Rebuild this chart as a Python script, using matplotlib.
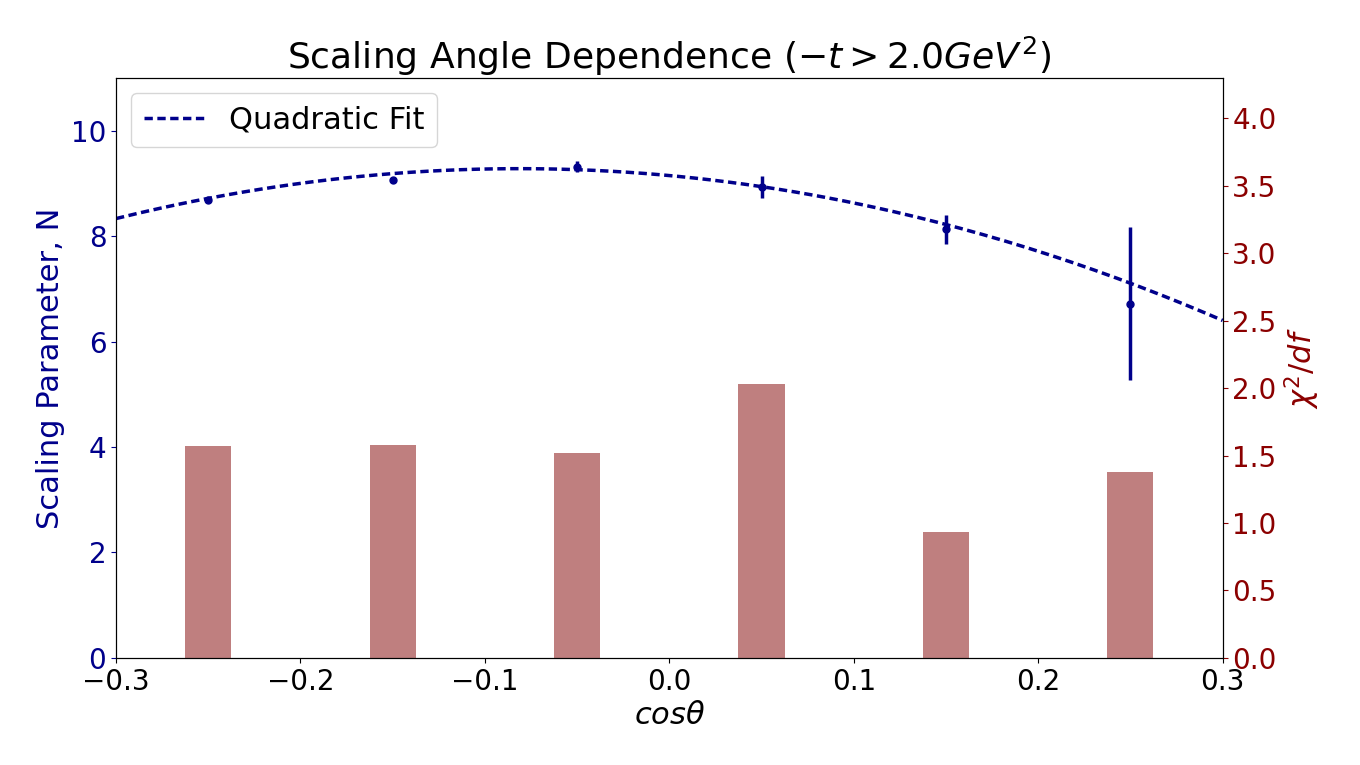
#!/usr/bin/env python3
"""Scaling angle dependence: fitted N vs cos(theta) with chi2/df bars."""

import numpy as np
import matplotlib
matplotlib.use("Agg")
import matplotlib.pyplot as plt

# data
cos_theta = [-0.25, -0.15, -0.05, 0.05, 0.15, 0.25]
scaling_n = [8.69, 9.06, 9.32, 8.93, 8.13, 6.72]
scaling_err = [0.03, 0.06, 0.11, 0.21, 0.28, 1.45]
chi2_df = [1.57, 1.58, 1.52, 2.03, 0.93, 1.38]
# quadratic fit coefficients (a x^2 + b x + c)
fit_coeffs = [-19.8, -3.22, 9.15]

LEFT_COLOR = "darkblue"
RIGHT_COLOR = "darkred"

fig, ax1 = plt.subplots(figsize=(13.6, 7.65), dpi=100)
fig.subplots_adjust(left=0.0853, right=0.899, bottom=0.140, top=0.898)

ax2 = ax1.twinx()
ax2.bar(cos_theta, chi2_df, width=0.025, color="maroon", alpha=0.5)
ax2.set_ylim(0, 4.3)
ax2.set_ylabel(r"$\chi^2/df$", color=RIGHT_COLOR, fontsize=22)
ax2.tick_params(axis="y", labelcolor=RIGHT_COLOR, color=RIGHT_COLOR, labelsize=20)
ax2.set_yticks(np.arange(0, 4.01, 0.5))

# put the fit axis on top of the bars
ax1.set_zorder(ax2.get_zorder() + 1)
ax1.patch.set_visible(False)

xfit = np.linspace(-0.3, 0.3, 200)
ax1.plot(xfit, np.polyval(fit_coeffs, xfit), "--", color=LEFT_COLOR,
         linewidth=2.5, dashes=(2.4, 1.3), label="Quadratic Fit")
ax1.errorbar(cos_theta, scaling_n, yerr=scaling_err, fmt="o", color=LEFT_COLOR,
             markersize=5, elinewidth=2.5)

ax1.set_xlim(-0.3, 0.3)
ax1.set_ylim(0, 11)
ax1.set_yticks([0, 2, 4, 6, 8, 10])
ax1.set_xlabel(r"$cos\theta$", fontsize=22)
ax1.set_ylabel("Scaling Parameter, N", color=LEFT_COLOR, fontsize=22)
ax1.tick_params(axis="y", labelcolor=LEFT_COLOR, color=LEFT_COLOR, labelsize=20)
ax1.tick_params(axis="x", labelsize=20)
ax1.legend(loc="upper left", fontsize=22)
ax1.set_title(r"Scaling Angle Dependence ($-t > 2.0 GeV^2$)", fontsize=26)

fig.savefig("out.png", dpi=100)
